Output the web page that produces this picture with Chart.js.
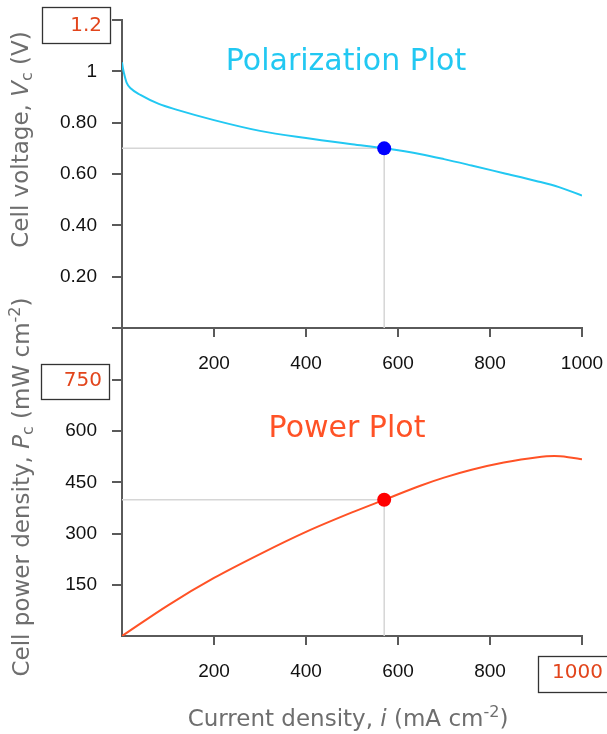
<!DOCTYPE html>
<html><head><meta charset="utf-8">
<script src="https://cdn.jsdelivr.net/npm/chart.js@4.4.1/dist/chart.umd.min.js"></script>
<style>
html,body{margin:0;padding:0;background:#fff;width:607px;height:734px;overflow:hidden;}
#wrap{position:relative;width:607px;height:734px;}
canvas{position:absolute;left:0;}
#cA{top:0px;} #cB{top:290px;}
</style></head><body>
<div id="wrap"><canvas id="cA" width="607" height="380"></canvas><canvas id="cB" width="607" height="444"></canvas></div>
<script>
// ---- data ----
const currentDensity = [0, 2, 4, 10, 20, 40, 80, 120, 200, 300, 400, 500, 570, 650, 700, 760, 830, 900, 950, 1000]; // mA cm-2
const cellVoltage    = [1.035, 1.012, 0.995, 0.956, 0.932, 0.908, 0.873, 0.850, 0.810, 0.768, 0.740, 0.716, 0.700, 0.677, 0.658, 0.633, 0.603, 0.573, 0.549, 0.516]; // V
const powerCurrent   = [0, 100, 200, 300, 400, 500, 570, 650, 700, 760, 830, 900, 940, 970, 1000]; // mA cm-2
const powerDensity   = [0, 90, 170, 240, 305, 362, 399, 441, 464, 487, 508, 523, 527, 524, 518]; // mW cm-2
const opCurrent = 570;   // operating point
const opVoltage = 0.70;
const opPower   = 399;
const currentTickLabels = ['200', '400', '600', '800', '1000'];
const voltageTickLabels = ['0.20', '0.40', '0.60', '0.80', '1'];
const powerTickLabels   = ['150', '300', '450', '600'];
const voltageMaxLabel = '1.2';
const powerMaxLabel   = '750';
const currentMaxLabel = '1000';
const titleTop = 'Polarization Plot';
const titleBottom = 'Power Plot';

// ---- styling ----
const F_TICK = '"Liberation Sans", Arial, sans-serif';
const F_TEXT = '"DejaVu Sans", Verdana, sans-serif';
const AXIS = '#5a5a5a';
const GUIDE = '#d6d6d6';
const CYAN = '#22c8f2';
const ORANGE = '#ff5226';
const BOXTXT = '#e2451c';
const TITLEGRAY = '#6e6e6e';

function labelFrom(list, values, v) {
  const k = values.findIndex(t => Math.abs(t - v) < 1e-6);
  return k >= 0 ? list[k] : '';
}

function drawRich(ctx, parts, size, color, cx, cy, rot) {
  ctx.save();
  ctx.translate(cx, cy); ctx.rotate(rot || 0);
  ctx.fillStyle = color; ctx.textBaseline = 'middle'; ctx.textAlign = 'left';
  const fontFor = p => `${p.i ? 'italic ' : ''}${(p.sub || p.sup) ? Math.round(size * 0.68) : size}px ${F_TEXT}`;
  let w = 0;
  parts.forEach(p => { ctx.font = fontFor(p); w += ctx.measureText(p.t).width; });
  let x = -w / 2;
  parts.forEach(p => {
    ctx.font = fontFor(p);
    const dy = p.sub ? size * 0.26 : (p.sup ? -size * 0.3 : 0);
    ctx.fillText(p.t, x, dy);
    x += ctx.measureText(p.t).width;
  });
  ctx.restore();
}

function drawBox(ctx, label, x0, y0, x1, y1, textRight, textCy) {
  ctx.save();
  ctx.strokeStyle = '#333'; ctx.lineWidth = 1.3;
  ctx.strokeRect(x0 + 0.5, y0 + 0.5, x1 - x0, y1 - y0);
  ctx.font = `20px ${F_TEXT}`; ctx.fillStyle = BOXTXT;
  ctx.textAlign = 'right'; ctx.textBaseline = 'middle';
  ctx.fillText(label, textRight, textCy);
  ctx.restore();
}

function axisLine(ctx, x, y0, y1) {
  ctx.save(); ctx.strokeStyle = AXIS; ctx.lineWidth = 2;
  ctx.beginPath(); ctx.moveTo(x, y0); ctx.lineTo(x, y1); ctx.stroke(); ctx.restore();
}

const vTickValues = [0.2, 0.4, 0.6, 0.8, 1.0];
const pTickValues = [150, 300, 450, 600];
const iTickValues = [200, 400, 600, 800, 1000];

function xScale(height, lastLabel, hideZeroTick) {
  return {
    type: 'linear', min: 0, max: 1000, position: 'bottom',
    afterFit: s => { s.height = height; s.paddingLeft = 0; s.paddingRight = 0; },
    border: { display: true, color: AXIS, width: 2 },
    grid: { drawOnChartArea: false, drawTicks: true, tickLength: 9, lineWidth: 2,
            color: AXIS, tickColor: c => (hideZeroTick && c.tick && c.tick.value === 0) ? 'rgba(0,0,0,0)' : AXIS },
    ticks: { stepSize: 200, padding: 15, color: '#111', maxRotation: 0, autoSkip: false,
             font: { family: F_TICK, size: 19 },
             callback: v => {
               const lbl = labelFrom(currentTickLabels, iTickValues, v);
               if (!lastLabel && lbl === currentMaxLabel) return '';
               return lbl;
             } }
  };
}

function yScale(max, step, labels, values, hideZeroTick) {
  return {
    type: 'linear', min: 0, max: max,
    afterFit: s => { s.width = 122; s.paddingTop = 0; s.paddingBottom = 0; },
    border: { display: true, color: AXIS, width: 2 },
    grid: { drawOnChartArea: false, drawTicks: true, tickLength: 10, lineWidth: 2,
            color: AXIS, tickColor: c => (hideZeroTick && c.tick && Math.abs(c.tick.value) < 1e-9) ? 'rgba(0,0,0,0)' : AXIS },
    ticks: { stepSize: step, padding: 15, color: '#111', autoSkip: false,
             font: { family: F_TICK, size: 19 },
             callback: v => labelFrom(labels, values, v) }
  };
}

const decorA = {
  id: 'decorA',
  afterDraw(chart) {
    const ctx = chart.ctx, a = chart.chartArea;
    const ys = chart.scales.y;
    axisLine(ctx, 122, a.bottom, chart.height);
    ctx.save(); ctx.font = `30px ${F_TEXT}`; ctx.fillStyle = CYAN; ctx.textAlign = 'center'; ctx.textBaseline = 'alphabetic';
    ctx.fillText(titleTop, 346, 70); ctx.restore();
    drawRich(ctx, [{t: 'Cell voltage, '}, {t: 'V', i: 1}, {t: 'c', sub: 1}, {t: ' (V)'}], 23, TITLEGRAY, 22, 139.5, -Math.PI / 2);
    const py = ys.getPixelForValue(1.2);
    drawBox(ctx, voltageMaxLabel, 42, py - 13, 110, py + 23, 102, py + 6);
  }
};

const decorB = {
  id: 'decorB',
  afterDraw(chart) {
    const ctx = chart.ctx, a = chart.chartArea;
    const ys = chart.scales.y, xs = chart.scales.x;
    axisLine(ctx, 122, 0, a.top);
    ctx.save(); ctx.font = `30px ${F_TEXT}`; ctx.fillStyle = ORANGE; ctx.textAlign = 'center'; ctx.textBaseline = 'alphabetic';
    ctx.fillText(titleBottom, 347, a.top + 57); ctx.restore();
    drawRich(ctx, [{t: 'Cell power density, '}, {t: 'P', i: 1}, {t: 'c', sub: 1}, {t: ' (mW cm'}, {t: '-2', sup: 1}, {t: ')'}], 23, TITLEGRAY, 23, a.top + 107, -Math.PI / 2);
    drawRich(ctx, [{t: 'Current density, '}, {t: 'i', i: 1}, {t: ' (mA cm'}, {t: '-2', sup: 1}, {t: ')'}], 23, TITLEGRAY, 348, a.bottom + 84, 0);
    const py = ys.getPixelForValue(750);
    drawBox(ctx, powerMaxLabel, 41, py - 16, 109, py + 19, 102, py + 1);
    const px = xs.getPixelForValue(1000);
    drawBox(ctx, currentMaxLabel, px - 44, a.bottom + 20, px + 30, a.bottom + 56, px + 21, a.bottom + 37);
  }
};

const common = {
  responsive: false, animation: false, events: [],
  plugins: { legend: { display: false }, tooltip: { enabled: false } }
};

new Chart(document.getElementById('cA'), {
  type: 'scatter',
  data: { datasets: [
    { label: 'Operating point', data: [{x: opCurrent, y: opVoltage}], showLine: false,
      pointRadius: 7, pointBackgroundColor: '#0000ff', pointBorderColor: '#0000ff', pointBorderWidth: 0, order: 0 },
    { label: 'Cell voltage', data: currentDensity.map((x, k) => ({x, y: cellVoltage[k]})), showLine: true,
      borderColor: CYAN, borderWidth: 2, pointRadius: 0, cubicInterpolationMode: 'monotone', order: 1 },
    { label: 'guide', data: [{x: 0, y: opVoltage}, {x: opCurrent, y: opVoltage}, {x: opCurrent, y: 0}], showLine: true,
      borderColor: GUIDE, borderWidth: 1.5, pointRadius: 0, tension: 0, order: 2 }
  ]},
  options: Object.assign({}, common, {
    layout: { padding: { left: 0, right: 25, top: 20, bottom: 0 } },
    scales: { x: xScale(52, true, false), y: yScale(1.2, 0.2, voltageTickLabels, vTickValues, false) }
  }),
  plugins: [decorA]
});

new Chart(document.getElementById('cB'), {
  type: 'scatter',
  data: { datasets: [
    { label: 'Operating point', data: [{x: opCurrent, y: opPower}], showLine: false,
      pointRadius: 7, pointBackgroundColor: '#ff0000', pointBorderColor: '#ff0000', pointBorderWidth: 0, order: 0 },
    { label: 'Power density', data: powerCurrent.map((x, k) => ({x, y: powerDensity[k]})), showLine: true,
      borderColor: ORANGE, borderWidth: 2, pointRadius: 0, cubicInterpolationMode: 'monotone', order: 1 },
    { label: 'guide', data: [{x: 0, y: opPower}, {x: opCurrent, y: opPower}, {x: opCurrent, y: 0}], showLine: true,
      borderColor: GUIDE, borderWidth: 1.5, pointRadius: 0, tension: 0, order: 2 }
  ]},
  options: Object.assign({}, common, {
    layout: { padding: { left: 0, right: 25, top: 90, bottom: 0 } },
    scales: { x: xScale(98, false, true), y: yScale(750, 150, powerTickLabels, pTickValues, true) }
  }),
  plugins: [decorB]
});
</script>
</body></html>
